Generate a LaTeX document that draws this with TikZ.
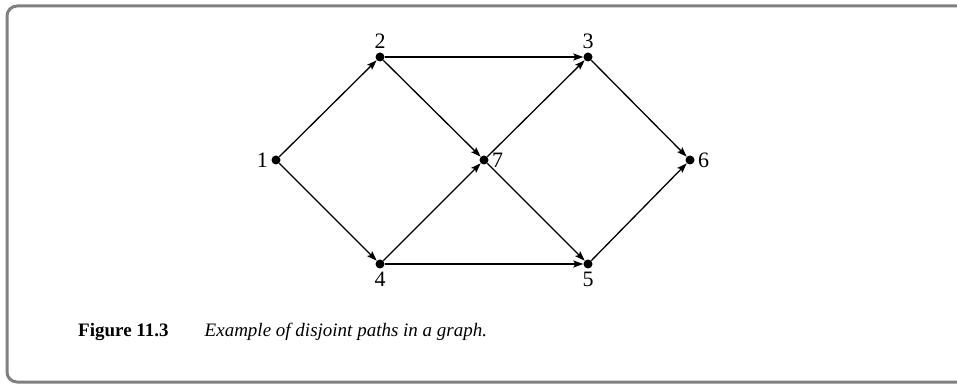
\documentclass[tikz,border=0pt]{standalone}
\usepackage{fontspec}
\setmainfont{Liberation Serif}
\usetikzlibrary{arrows.meta}
\definecolor{frame}{RGB}{128,128,128}
\tikzset{
  >={Stealth[length=10pt,width=7pt,inset=2pt]},
  vertex/.style={circle,fill=black,inner sep=0pt,minimum size=9pt,
    label distance=-2pt},
  arc/.style={->,line width=1.3pt},
  caption/.style={anchor=base west,inner sep=0pt},
}

\begin{document}
\begin{tikzpicture}[x=1pt,y=1pt,font=\fontsize{19}{22}\selectfont,
    every label/.style={font=\fontsize{22}{24}\selectfont}]
  \useasboundingbox (0,0) rectangle (957,385);
  \draw[frame,line width=3pt,rounded corners=10pt] (7,3) rectangle (975,379);
  % vertices
  \node[vertex,label=left:1] (v1) at (276,225) {};
  \node[vertex,label=above:2] (v2) at (380,328) {};
  \node[vertex,label=above:3] (v3) at (588,328) {};
  \node[vertex,label=right:7] (v7) at (484,225) {};
  \node[vertex,label=right:6] (v6) at (690,225) {};
  \node[vertex,label=below:4] (v4) at (380,121) {};
  \node[vertex,label=below:5] (v5) at (588,121) {};
  % arcs
  \foreach \a/\b in {v1/v2,v1/v4,v2/v3,v2/v7,v4/v7,v4/v5,v7/v3,v7/v5,v3/v6,v5/v6}
    \draw[arc] (\a) -- (\b);
  \node[caption] (cap) at (78,48) {\textbf{Figure 11.3}\hspace{1.9em}\textit{Example of disjoint paths in a graph.}};
\end{tikzpicture}
\end{document}
